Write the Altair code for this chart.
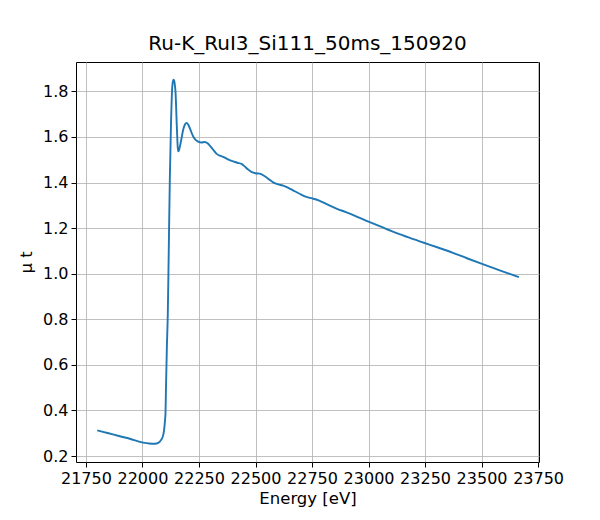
import altair as alt
import pandas as pd

energy = [21800, 21850, 21900, 21944, 22003, 22030, 22055, 22070, 22084, 22092,
          22096, 22100, 22102, 22104, 22108, 22112, 22116, 22121, 22126, 22131,
          22135, 22138, 22142, 22146, 22152, 22156, 22158, 22161, 22166, 22173,
          22180, 22188, 22195, 22202, 22212, 22224, 22235, 22246, 22260, 22276,
          22288, 22298, 22312, 22327, 22342, 22357, 22378, 22401, 22420, 22438,
          22452, 22466, 22482, 22500, 22519, 22541, 22560, 22578, 22600, 22622,
          22645, 22666, 22695, 22725, 22752, 22784, 22820, 22858, 22900, 22950,
          22997, 23060, 23122, 23180, 23245, 23310, 23373, 23435, 23499, 23580,
          23665]
mu_t = [0.313, 0.300, 0.287, 0.276, 0.259, 0.255, 0.254, 0.258, 0.273, 0.293,
        0.317, 0.360, 0.390, 0.500, 0.680, 0.820, 1.080, 1.413, 1.647, 1.808,
        1.845, 1.851, 1.838, 1.800, 1.647, 1.555, 1.537, 1.540, 1.560, 1.595,
        1.632, 1.655, 1.662, 1.655, 1.632, 1.603, 1.587, 1.580, 1.576, 1.578,
        1.572, 1.562, 1.545, 1.527, 1.518, 1.513, 1.502, 1.493, 1.487, 1.482,
        1.471, 1.458, 1.447, 1.441, 1.439, 1.428, 1.414, 1.401, 1.392, 1.387,
        1.377, 1.366, 1.351, 1.337, 1.330, 1.320, 1.303, 1.286, 1.270, 1.250,
        1.230, 1.204, 1.179, 1.158, 1.136, 1.114, 1.092, 1.068, 1.044, 1.015,
        0.985]

x_ticks = [21750, 22000, 22250, 22500, 22750, 23000, 23250, 23500, 23750]
y_ticks = [0.2, 0.4, 0.6, 0.8, 1.0, 1.2, 1.4, 1.6, 1.8]

df = pd.DataFrame({"energy": energy, "mu": mu_t})

FONT = "DejaVu Sans"

chart = alt.Chart(df).mark_line(
    color="#1f77b4", strokeWidth=1.9, interpolate="monotone", clip=True
).encode(
    x=alt.X("energy:Q",
            scale=alt.Scale(domain=[21706, 23754], nice=False, zero=False),
            axis=alt.Axis(title="Energy [eV]", values=x_ticks, format="d",
                          titlePadding=4)),
    y=alt.Y("mu:Q",
            scale=alt.Scale(domain=[0.174, 1.929], nice=False, zero=False),
            axis=alt.Axis(title="μ t", values=y_ticks, format=".1f",
                          titlePadding=8)),
).properties(
    width=463,
    height=400,
    title=alt.TitleParams("Ru-K_RuI3_Si111_50ms_150920", fontSize=20,
                          font=FONT, fontWeight="normal", color="black",
                          anchor="middle", offset=8),
    autosize=alt.AutoSizeParams(type="none"),
    padding={"left": 68, "top": 54, "right": 30, "bottom": 50},
).configure(
    background="white"
).configure_view(
    stroke="black", strokeWidth=1
).configure_axis(
    domain=False,
    grid=True, gridColor="#b0b0b0", gridWidth=0.8, gridOpacity=1,
    ticks=True, tickColor="black", tickSize=5, tickWidth=1,
    labelFont=FONT, labelFontSize=16, labelColor="black", labelPadding=3,
    titleFont=FONT, titleFontSize=16.5, titleFontWeight="normal", titleColor="black",
    labelFlush=False,
)

chart.save("out.html", embed_options={"renderer": "svg", "actions": False})
